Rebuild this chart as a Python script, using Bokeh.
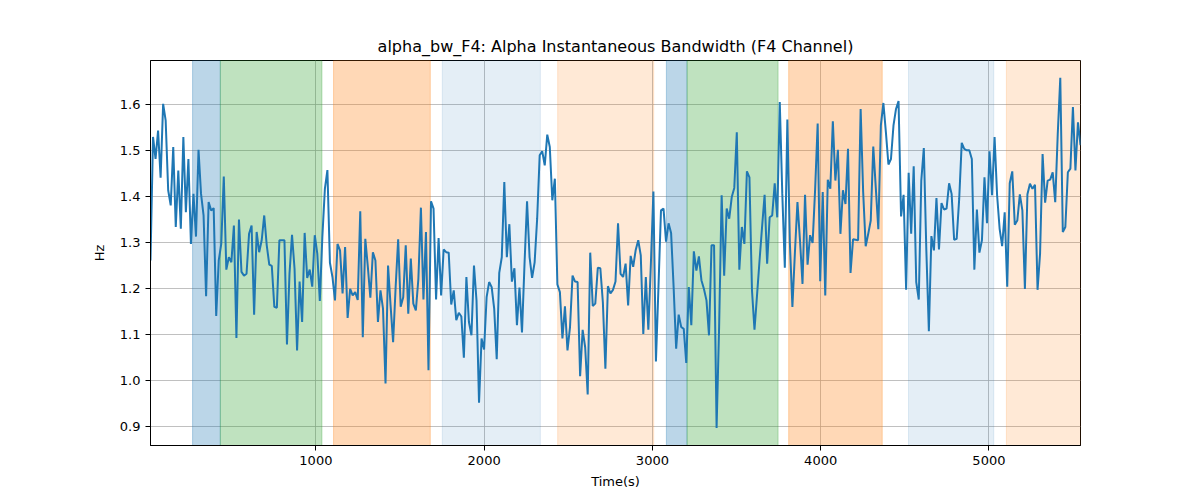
import numpy as np
from bokeh.plotting import figure
from bokeh.models import BoxAnnotation, FixedTicker, PrintfTickFormatter, Range1d
from bokeh.embed import file_html
from bokeh.resources import INLINE

# sampling of the signal (uniform grid)
t_start = 17.0
t_step = 15.02

bandwidth_hz = [
    1.261, 1.530, 1.482, 1.544, 1.441, 1.602, 1.566, 1.414, 1.381, 1.508,
    1.334, 1.457, 1.330, 1.530, 1.366, 1.482, 1.297, 1.406, 1.313, 1.502,
    1.406, 1.359, 1.183, 1.388, 1.370, 1.375, 1.140, 1.261, 1.297, 1.444,
    1.241, 1.268, 1.257, 1.337, 1.092, 1.350, 1.236, 1.228, 1.232, 1.319,
    1.337, 1.143, 1.323, 1.279, 1.305, 1.359, 1.294, 1.252, 1.249, 1.160,
    1.158, 1.305, 1.305, 1.305, 1.078, 1.232, 1.317, 1.243, 1.065, 1.215,
    1.127, 1.321, 1.223, 1.241, 1.204, 1.316, 1.276, 1.173, 1.312, 1.417,
    1.458, 1.256, 1.225, 1.174, 1.297, 1.283, 1.189, 1.290, 1.136, 1.199,
    1.185, 1.192, 1.175, 1.368, 1.094, 1.308, 1.247, 1.180, 1.279, 1.261,
    1.127, 1.196,
    1.156, 0.993, 1.250, 1.163, 1.083, 1.203, 1.307, 1.160, 1.181, 1.294,
    1.145, 1.265, 1.167, 1.152, 1.221, 1.376, 1.176, 1.323, 1.022, 1.390,
    1.374, 1.176, 1.310, 1.185, 1.285, 1.279, 1.278, 1.165, 1.196, 1.131,
    1.147, 1.139, 1.049, 1.225, 1.127, 1.098, 1.250, 1.174, 0.951, 1.091,
    1.067, 1.181, 1.214, 1.203, 1.156, 1.046, 1.234, 1.268, 1.432, 1.268,
    1.340, 1.215, 1.244, 1.120, 1.202, 1.104, 1.254, 1.390, 1.268, 1.223,
    1.257, 1.352, 1.490, 1.499, 1.468, 1.535, 1.508, 1.392, 1.439, 1.209,
    1.192, 1.091, 1.161, 1.065, 1.116, 1.228, 1.215, 1.214, 1.009, 1.110,
    1.072, 0.969, 1.278, 1.162, 1.167, 1.245, 1.244, 1.170, 1.025, 1.205,
    1.189,
    1.197, 1.215, 1.342, 1.232, 1.225, 1.254, 1.163, 1.271, 1.247, 1.284,
    1.305, 1.272, 1.101, 1.225, 1.110, 1.254, 1.411, 1.041, 1.203, 1.370,
    1.374, 1.302, 1.342, 1.321, 1.203, 1.069, 1.143, 1.116, 1.112, 1.038,
    1.203, 1.120, 1.281, 1.239, 1.270, 1.218, 1.199, 1.174, 1.098, 1.294,
    1.294, 0.896, 1.116, 1.403, 1.228, 1.374, 1.352, 1.399, 1.419, 1.540,
    1.241, 1.334, 1.297, 1.455, 1.442, 1.196, 1.110, 1.185, 1.261, 1.334,
    1.404, 1.254, 1.355, 1.359, 1.429, 1.355, 1.606, 1.406, 1.245, 1.568,
    1.299, 1.160, 1.279, 1.388, 1.305, 1.210, 1.404, 1.252, 1.316, 1.299,
    1.417, 1.559, 1.216, 1.410, 1.185, 1.437, 1.417, 1.564, 1.435, 1.502,
    1.319,
    1.414, 1.384, 1.504, 1.234, 1.307, 1.306, 1.305, 1.591, 1.410, 1.292,
    1.319, 1.348, 1.509, 1.419, 1.329, 1.555, 1.604, 1.540, 1.470, 1.482,
    1.555, 1.591, 1.608, 1.357, 1.404, 1.197, 1.452, 1.319, 1.466, 1.214,
    1.176, 1.435, 1.506, 1.283, 1.107, 1.314, 1.283, 1.397, 1.285, 1.386,
    1.372, 1.374, 1.429, 1.406, 1.306, 1.308, 1.395, 1.517, 1.504, 1.501,
    1.501, 1.482, 1.241, 1.372, 1.278, 1.305, 1.442, 1.342, 1.499, 1.403,
    1.530, 1.403, 1.330, 1.292, 1.366, 1.204, 1.429, 1.455, 1.339, 1.348,
    1.405, 1.370, 1.199, 1.405, 1.428, 1.417, 1.426, 1.197, 1.276, 1.493,
    1.387, 1.435, 1.437, 1.453, 1.388, 1.537, 1.659, 1.323, 1.334, 1.453,
    1.461, 1.595, 1.457, 1.562, 1.512,
]
time_s = t_start + t_step * np.arange(len(bandwidth_hz))

# shaded intervals (seconds)
span_start = [267, 432, 1105, 1751, 2437, 3083, 3206, 3810, 4522, 5104]
span_end = [432, 1036, 1680, 2334, 3008, 3206, 3747, 4366, 5029, 5545]
span_color = ["#1f77b4", "#2ca02c", "#ff7f0e", "#1f77b4", "#ff7f0e",
              "#1f77b4", "#2ca02c", "#ff7f0e", "#1f77b4", "#ff7f0e"]
span_alpha = [0.3, 0.3, 0.3, 0.12, 0.17, 0.3, 0.3, 0.3, 0.12, 0.17]

x_ticks = [1000, 2000, 3000, 4000, 5000]
y_ticks = [0.9, 1.0, 1.1, 1.2, 1.3, 1.4, 1.5, 1.6]

FONT = "DejaVu Sans"

p = figure(width=1184, height=492, output_backend="svg", toolbar_location=None,
           min_border_left=150, min_border_right=104, min_border_top=60,
           min_border_bottom=47,
           title="alpha_bw_F4: Alpha Instantaneous Bandwidth (F4 Channel)",
           x_range=Range1d(time_s[0], time_s[-1]), y_range=Range1d(0.858, 1.6965))

for s, e, c, a in zip(span_start, span_end, span_color, span_alpha):
    p.add_layout(BoxAnnotation(left=s, right=e, fill_color=c, fill_alpha=a,
                               line_color=c, line_alpha=a, line_width=1,
                               level="underlay"))

p.line(time_s, bandwidth_hz, line_color="#1f77b4", line_width=2)

p.title.align = "center"
p.title.text_font = FONT
p.title.text_font_size = "16px"
p.title.text_font_style = "normal"
p.title.text_color = "black"

p.xaxis.axis_label = "Time(s)"
p.yaxis.axis_label = "Hz"
p.xaxis.ticker = FixedTicker(ticks=x_ticks)
p.yaxis.ticker = FixedTicker(ticks=y_ticks)
p.yaxis.formatter = PrintfTickFormatter(format="%.1f")
for ax in (p.xaxis, p.yaxis):
    ax.axis_label_text_font = FONT
    ax.axis_label_text_font_size = "13px"
    ax.axis_label_text_font_style = "normal"
    ax.axis_label_text_color = "black"
    ax.major_label_text_font = FONT
    ax.major_label_text_font_size = "13px"
    ax.major_label_text_color = "black"
    ax.axis_line_color = "black"
    ax.major_tick_line_color = "black"
    ax.major_tick_out = 5
    ax.major_tick_in = 0
    ax.minor_tick_line_color = None
p.xaxis.axis_label_standoff = 6
p.yaxis.axis_label_standoff = 10

p.grid.grid_line_color = "#b0b0b0"
p.grid.grid_line_width = 0.8
p.outline_line_color = "black"
p.outline_line_alpha = 1

open("out.html", "w").write(file_html(p, INLINE))
